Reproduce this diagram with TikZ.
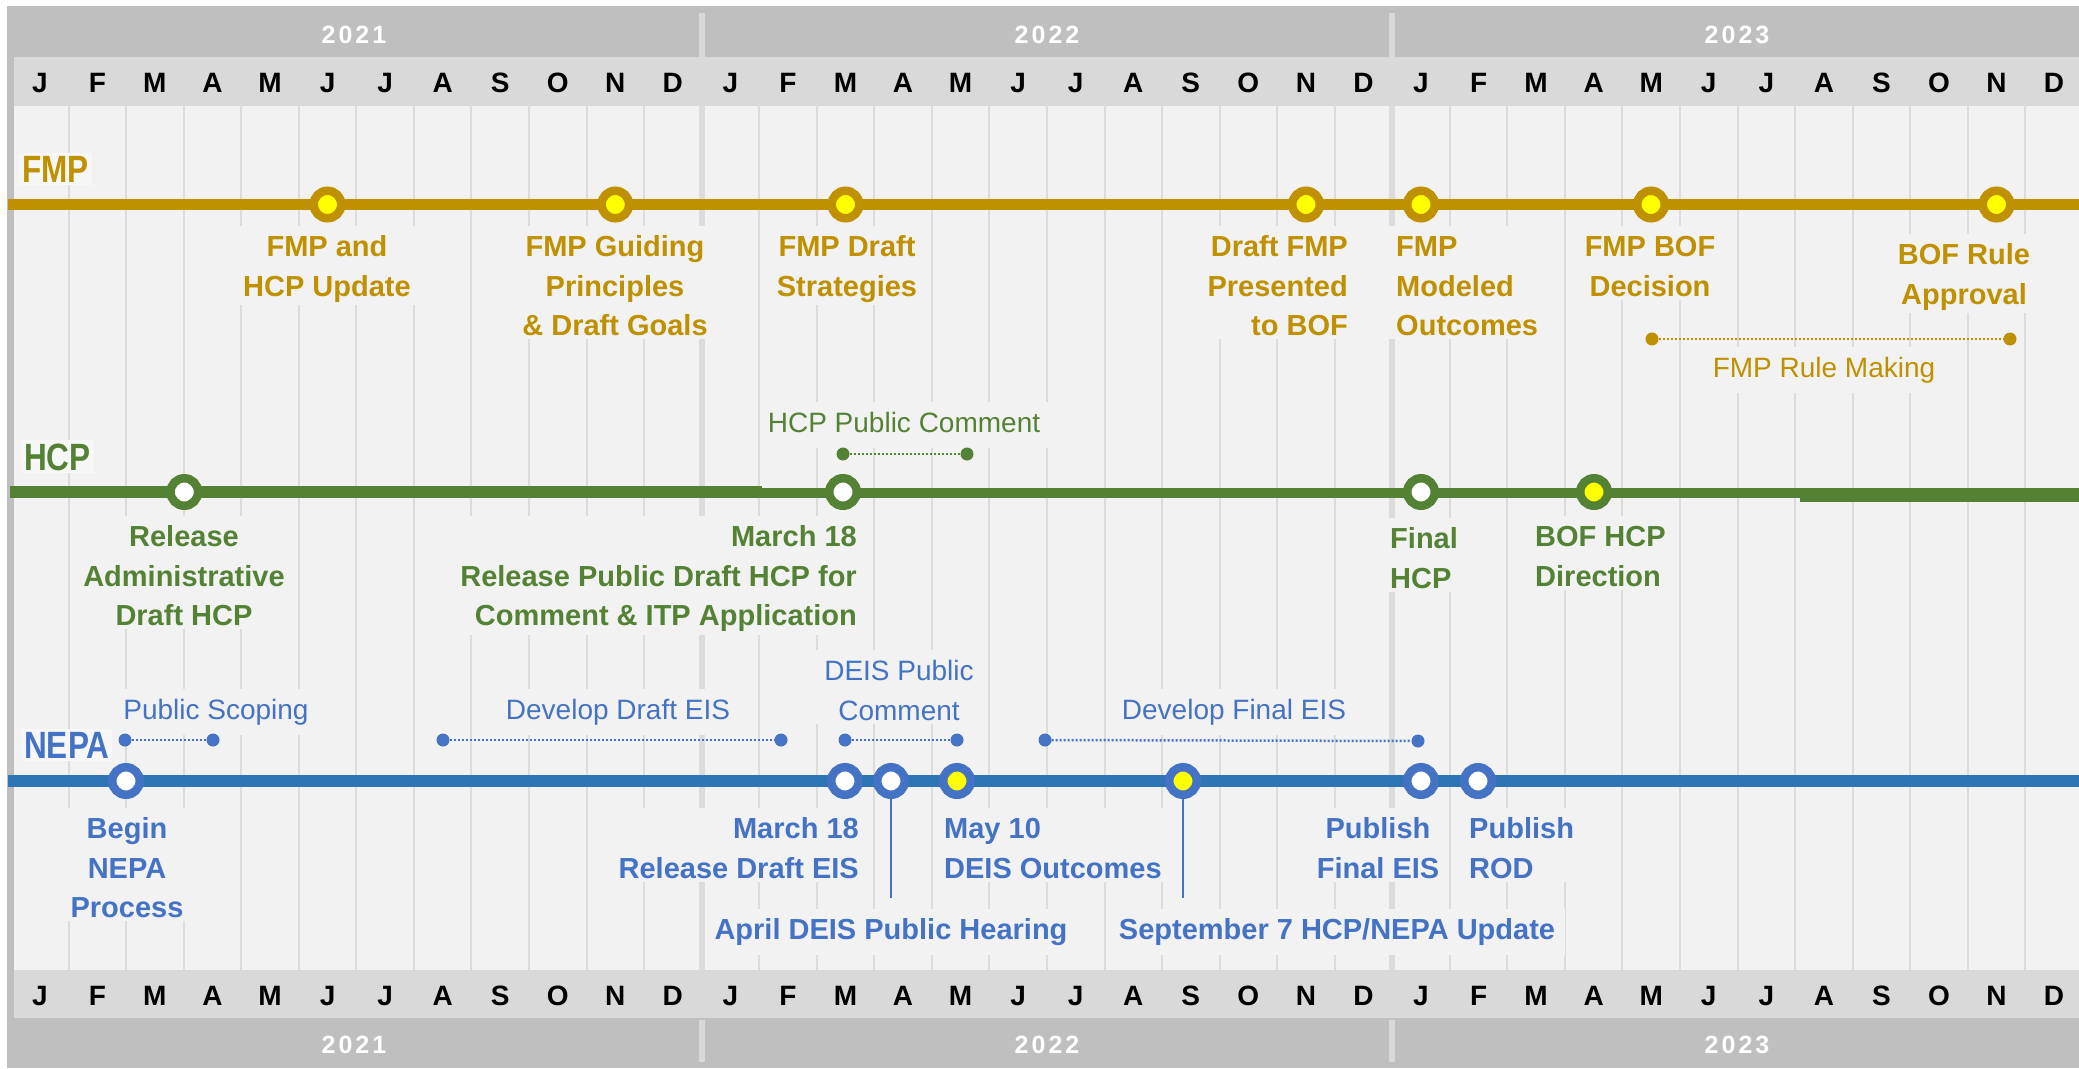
\documentclass[tikz,border=0pt]{standalone}
\usepackage{fontspec}
\setmainfont{Liberation Sans}
\newfontfamily\titlefont[FakeStretch=0.83]{Liberation Sans}
\newfontfamily\yearfont[LetterSpace=12]{Liberation Sans}
\definecolor{gold}{HTML}{BF9000}
\definecolor{hgreen}{HTML}{548235}
\definecolor{nblue}{HTML}{2E75B6}
\definecolor{tblue}{HTML}{4472C4}
\definecolor{bgc}{HTML}{F2F2F2}
\definecolor{gridc}{HTML}{DCDCDC}
\definecolor{yearc}{HTML}{BFBFBF}
\definecolor{monthc}{HTML}{D9D9D9}
\definecolor{ylw}{HTML}{FFFF00}
\definecolor{titlebg}{HTML}{F7F7F7}
\tikzset{
  gridline/.style={draw=gridc, line width=2pt},
  yearline/.style={draw=gridc, line width=6pt},
  monthlbl/.style={font=\bfseries\fontsize{28}{34}\selectfont, anchor=base, inner sep=0pt},
  yearlbl/.style={font=\yearfont\bfseries\fontsize{25}{30}\selectfont, text=white, anchor=base, inner sep=0pt},
  sectitle/.style={font=\titlefont\bfseries\fontsize{38}{44}\selectfont, anchor=base west, inner sep=3pt, fill=titlebg},
  mlbl/.style={font=\bfseries\fontsize{29}{39.5}\selectfont, fill=bgc, inner xsep=10pt, inner ysep=3pt, align=center, anchor=north},
  rlbl/.style={font=\fontsize{28}{39.5}\selectfont, fill=bgc, inner xsep=8pt, inner ysep=3pt, align=center, anchor=north},
  ms/.style={circle, draw=#1, line width=8.5pt, minimum size=27.5pt, inner sep=0pt},
  rng/.style={draw=#1, line width=2.5pt, dash pattern=on 2pt off 2pt},
  rdot/.style={circle, fill=#1, minimum size=13pt, inner sep=0pt},
  conn/.style={draw=tblue, line width=2pt},
}
\begin{document}
\begin{tikzpicture}[x=1pt,y=-1pt]
\useasboundingbox (0,0) rectangle (2079,1068);
% frame and bands
\fill[white] (0,0) rectangle (2079,1068);
\fill[yearc] (7,6) rectangle (2079,1068);
\fill[monthc] (14,57) rectangle (2079,106);
\fill[monthc] (14,970) rectangle (2079,1018);
\fill[bgc] (14,106) rectangle (2079,970);
% year separators in year bands
\foreach \yx in {701.6,1392.3} {
  \fill[monthc] (\yx-3,13) rectangle (\yx+3,57);
  \fill[monthc] (\yx-3,1020) rectangle (\yx+3,1062);
}
% grid lines
\foreach \m in {0,...,34} {
  \ifnum\m=11\relax\else\ifnum\m=23\relax\else
    \draw[gridline] ({68.6+57.55*\m},106) -- ({68.6+57.55*\m},970);
  \fi\fi
}
\draw[yearline] (701.6,106) -- (701.6,970);
\draw[yearline] (1392.3,106) -- (1392.3,970);
% month letters
\foreach \l [count=\i from 0] in {J,F,M,A,M,J,J,A,S,O,N,D,J,F,M,A,M,J,J,A,S,O,N,D,J,F,M,A,M,J,J,A,S,O,N,D} {
  \node[monthlbl] (mt\i) at ({39.8+57.55*\i},92.5) {\l};
  \node[monthlbl] (mb\i) at ({39.8+57.55*\i},1005) {\l};
}
% year labels
\node[yearlbl] (yt1) at (354,43) {2021};
\node[yearlbl] (yt2) at (1047,43) {2022};
\node[yearlbl] (yt3) at (1737,43) {2023};
\node[yearlbl] (yb1) at (354,1053) {2021};
\node[yearlbl] (yb2) at (1047,1053) {2022};
\node[yearlbl] (yb3) at (1737,1053) {2023};
% section titles
\node[sectitle, text=gold] (tfmp) at (19,182) {FMP};
\node[sectitle, text=hgreen] (thcp) at (21,470) {HCP};
\node[sectitle, text=tblue] (tnepa) at (21,758) {NEPA};
% FMP labels
\node[mlbl, text=gold] (f1) at (327,226) {\strut FMP and\\HCP Update};
\node[mlbl, text=gold] (f2) at (615,226) {\strut FMP Guiding\\Principles\\\& Draft Goals};
\node[mlbl, text=gold] (f3) at (847,226) {\strut FMP Draft\\Strategies};
\node[mlbl, text=gold, anchor=north east, align=right] (f4) at (1358,226) {\strut Draft FMP\\Presented\\to BOF};
\node[mlbl, text=gold, anchor=north west, align=left] (f5) at (1386,226) {\strut FMP\\Modeled\\Outcomes};
\node[mlbl, text=gold] (f6) at (1650,226) {\strut FMP BOF\\Decision};
\node[mlbl, text=gold] (f7) at (1964,234) {\strut BOF Rule\\Approval};
\node[rlbl, text=gold] (fr) at (1824,347) {\strut FMP Rule Making};
% HCP labels
\node[mlbl, text=hgreen] (h1) at (184,516) {\strut Release\\Administrative\\Draft HCP};
\node[mlbl, text=hgreen, anchor=north east, align=right] (h2) at (867,516) {\strut March 18\\Release Public Draft HCP for\\Comment \& ITP Application};
\node[mlbl, text=hgreen, anchor=north west, align=left] (h3) at (1380,518) {\strut Final\\HCP};
\node[mlbl, text=hgreen, anchor=north west, align=left] (h4) at (1525,516) {\strut BOF HCP\\Direction};
\node[rlbl, text=hgreen] (hr) at (904,402) {\strut HCP Public Comment};
% NEPA labels
\node[mlbl, text=tblue] (n1) at (127,808) {\strut Begin\\NEPA\\Process};
\node[mlbl, text=tblue, anchor=north east, align=right] (n2) at (869,808) {\strut March 18\\Release Draft EIS};
\node[mlbl, text=tblue, anchor=north west, align=left] (n3) at (934,808) {\strut May 10\\DEIS Outcomes};
\node[mlbl, text=tblue] (n4) at (891,909) {\strut April DEIS Public Hearing};
\node[mlbl, text=tblue] (n5) at (1337,909) {\strut September 7 HCP/NEPA Update};
\node[mlbl, text=tblue] (n6) at (1378,808) {\strut Publish\\Final EIS};
\node[mlbl, text=tblue, anchor=north west, align=left] (n7) at (1459,808) {\strut Publish\\ROD};
\node[rlbl, text=tblue] (nr1) at (216,689) {\strut Public Scoping};
\node[rlbl, text=tblue] (nr2) at (618,689) {\strut Develop Draft EIS};
\node[rlbl, text=tblue] (nr3) at (899,650) {\strut DEIS Public\\Comment};
\node[rlbl, text=tblue] (nr4) at (1234,689) {\strut Develop Final EIS};
% timelines
\fill[gold] (8,199) rectangle (2079,210);
\fill[hgreen] (10,486) rectangle (762,497.5);
\fill[hgreen] (762,488) rectangle (1800,497.5);
\fill[hgreen] (1800,488) rectangle (2079,501.5);
\fill[nblue] (8,774.5) rectangle (2079,787);
% FMP milestones
\node[ms=gold, fill=ylw] (fm1) at (327.5,204.5) {};
\node[ms=gold, fill=ylw] (fm2) at (615.3,204.5) {};
\node[ms=gold, fill=ylw] (fm3) at (845.5,204.5) {};
\node[ms=gold, fill=ylw] (fm4) at (1306,204.5) {};
\node[ms=gold, fill=ylw] (fm5) at (1421,204.5) {};
\node[ms=gold, fill=ylw] (fm6) at (1651,204.5) {};
\node[ms=gold, fill=ylw] (fm7) at (1996.5,204.5) {};
% HCP milestones
\node[ms=hgreen, fill=white] (hm1) at (184.3,492) {};
\node[ms=hgreen, fill=white] (hm2) at (843,492) {};
\node[ms=hgreen, fill=white] (hm3) at (1421,492) {};
\node[ms=hgreen, fill=ylw] (hm4) at (1594,492) {};
% NEPA milestones
\node[ms=tblue, fill=white] (nm1) at (126,781) {};
\node[ms=tblue, fill=white] (nm2) at (845,781) {};
\node[ms=tblue, fill=white] (nm3) at (891,781) {};
\node[ms=tblue, fill=ylw] (nm4) at (957,781) {};
\node[ms=tblue, fill=ylw] (nm5) at (1183,781) {};
\node[ms=tblue, fill=white] (nm6) at (1421,781) {};
\node[ms=tblue, fill=white] (nm7) at (1478,781) {};
% connectors to bottom labels
\coordinate (aprEnd) at (891,898);
\coordinate (sepEnd) at (1183,898);
\draw[conn] (nm3.south) -- (aprEnd);
\draw[conn] (nm5.south) -- (sepEnd);
% ranges
\node[rdot=gold] (fra) at (1652,339) {};
\node[rdot=gold] (frb) at (2010,339) {};
\draw[rng=gold] (fra) -- (frb);
\node[rdot=hgreen] (hra) at (843,454) {};
\node[rdot=hgreen] (hrb) at (967,454) {};
\draw[rng=hgreen] (hra) -- (hrb);
\node[rdot=tblue] (p1a) at (125,740) {};
\node[rdot=tblue] (p1b) at (213,740) {};
\draw[rng=tblue] (p1a) -- (p1b);
\node[rdot=tblue] (p2a) at (443,740) {};
\node[rdot=tblue] (p2b) at (781,740) {};
\draw[rng=tblue] (p2a) -- (p2b);
\node[rdot=tblue] (p3a) at (845,740) {};
\node[rdot=tblue] (p3b) at (957,740) {};
\draw[rng=tblue] (p3a) -- (p3b);
\node[rdot=tblue] (p4a) at (1045,740) {};
\node[rdot=tblue] (p4b) at (1418,741) {};
\draw[rng=tblue] (p4a) -- (p4b);
\end{tikzpicture}
\end{document}
